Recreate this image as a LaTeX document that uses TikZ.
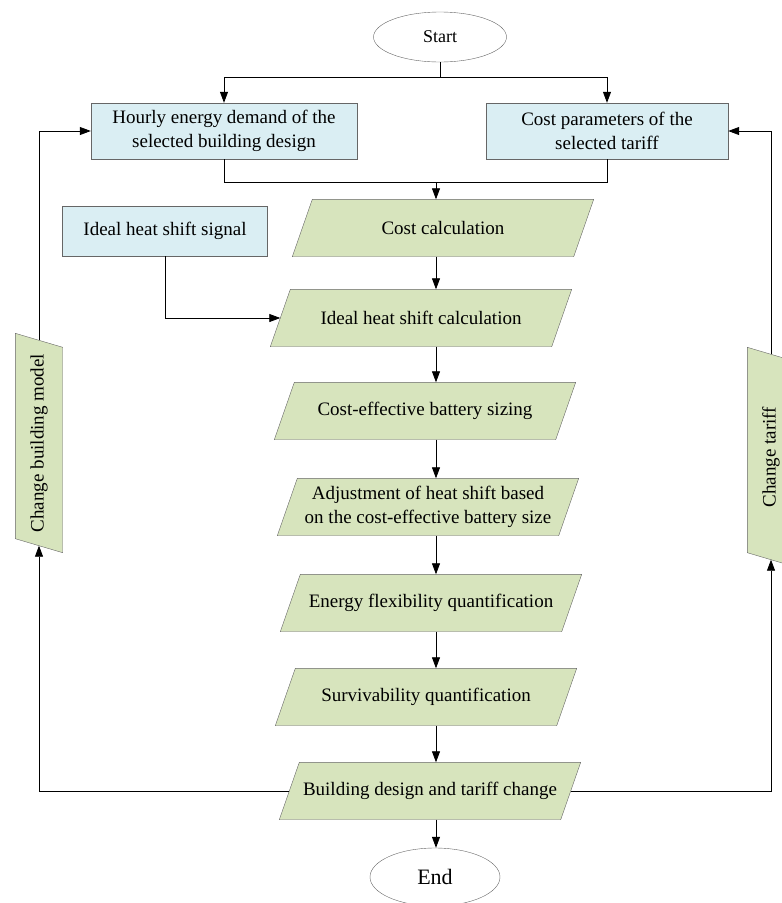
\documentclass[tikz,border=0pt]{standalone}
\usepackage{fontspec}
\setmainfont{Liberation Serif}
\usetikzlibrary{shapes.geometric,arrows.meta,backgrounds}
\definecolor{inblue}{HTML}{DAEEF3}
\definecolor{procgreen}{HTML}{D7E4BD}
\newcommand{\parabox}[2]{\filldraw[procshape] ([xshift=#2]#1.north west) -- ([xshift=#2]#1.north east) -- ([xshift=-#2]#1.south east) -- ([xshift=-#2]#1.south west) -- cycle;}
\newcommand{\sidepara}[2]{\filldraw[procshape] ([yshift=#2]#1.north west) -- ([yshift=#2]#1.north east) -- ([yshift=-#2]#1.south east) -- ([yshift=-#2]#1.south west) -- cycle;}

\begin{document}
\begin{tikzpicture}[x=1pt,y=-1pt,
  every node/.style={font=\fontsize{19}{24}\selectfont},
  inbox/.style={draw=black!60,fill=inblue,minimum height=56pt,align=center,inner sep=0},
  procbox/.style={minimum height=57pt,minimum width=281pt,align=center,inner sep=0},
  sidebox/.style={procbox,rotate=90,minimum width=205pt,minimum height=47pt},
  procshape/.style={draw=black!60,fill=procgreen},
  term/.style={ellipse,draw=black!60,fill=white,inner sep=0},
  arr/.style={-{Triangle[length=11pt,width=8pt]},line width=0.8pt},
  ln/.style={line width=0.8pt}]
\useasboundingbox (0,0) rectangle (782,903);
\node[term,minimum width=133pt,minimum height=50pt,font=\fontsize{18}{22}\selectfont] (start) at (440,37) {Start};
\node[inbox,minimum width=266pt] (demand) at (224,131) {Hourly energy demand of the\\selected building design};
\node[inbox,minimum width=242pt] (tariff) at (607,131) {Cost parameters of the\\selected tariff};
\node[inbox,minimum width=205pt,minimum height=50pt] (signal) at (165,231) {Ideal heat shift signal};
\node[procbox] (costcalc) at (443,228) {Cost calculation};
\node[procbox] (shiftcalc) at (421,318) {Ideal heat shift calculation};
\node[procbox] (battery) at (425,411) {Cost-effective battery sizing};
\node[procbox] (adjust) at (428,507) {Adjustment of heat shift based\\on the cost-effective battery size};
\node[procbox] (flex) at (431,603) {Energy flexibility quantification};
\node[procbox] (surv) at (426,697) {Survivability quantification};
\node[procbox] (change) at (430,791) {Building design and tariff change};
\node[term,minimum width=130pt,minimum height=58pt,font=\fontsize{22}{26}\selectfont] (end) at (435,877) {End};
\node[sidebox] (chbuild) at (39,443) {Change building model};
\node[sidebox] (chtariff) at (771,457) {Change tariff};
\begin{pgfonlayer}{background}
\parabox{costcalc}{10pt}
\parabox{shiftcalc}{10pt}
\parabox{battery}{10pt}
\parabox{adjust}{10pt}
\parabox{flex}{10pt}
\parabox{surv}{10pt}
\parabox{change}{10pt}
\sidepara{chbuild}{7pt}
\sidepara{chtariff}{7pt}
\end{pgfonlayer}
\coordinate (split) at (440,77);
\coordinate (merge) at (436,182);
\coordinate (spine) at (436,0);
\draw[ln] (start.south) -- (split);
\draw[arr] (split) -| (demand.north);
\draw[arr] (split) -| (tariff.north);
\draw[ln] (demand.south) |- (merge);
\draw[ln] (tariff.south) |- (merge);
\draw[arr] (merge) -- (merge |- costcalc.north);
\draw[arr] (costcalc.south -| spine) -- (shiftcalc.north -| spine);
\draw[arr] (signal.south) |- (shiftcalc.west);
\draw[arr] (shiftcalc.south -| spine) -- (battery.north -| spine);
\draw[arr] (battery.south -| spine) -- (adjust.north -| spine);
\draw[arr] (adjust.south -| spine) -- (flex.north -| spine);
\draw[arr] (flex.south -| spine) -- (surv.north -| spine);
\draw[arr] (surv.south -| spine) -- (change.north -| spine);
\draw[arr] (change.south -| spine) -- (end.north -| spine);
\draw[arr] (change.west) -| (chbuild.west);
\draw[arr] (chbuild.east) |- (demand.west);
\draw[arr] (change.east) -| (chtariff.west);
\draw[arr] (chtariff.east) |- (tariff.east);
\end{tikzpicture}
\end{document}
